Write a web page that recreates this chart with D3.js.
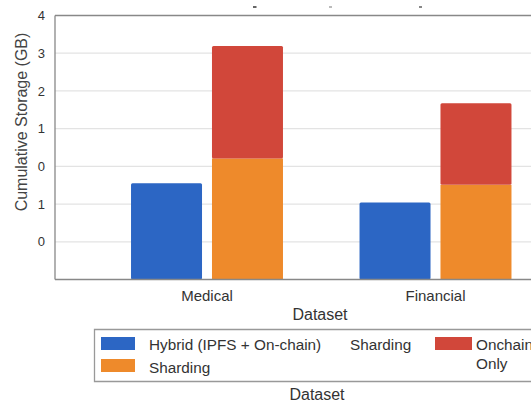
<!DOCTYPE html>
<html>
<head>
<meta charset="utf-8">
<script src="https://cdn.jsdelivr.net/npm/d3@7"></script>
<style>
  html, body { margin: 0; padding: 0; background: #fff; }
  svg { display: block; font-family: "Liberation Sans", Arial, sans-serif; }
</style>
</head>
<body>
<svg id="chart" width="531" height="403"></svg>
<script>
// Datasets along the x axis
const categories = ["Medical", "Financial"];
// Storage per approach (in axis units)
const hybridValues = [2.55, 2.04];
const shardingValues = [3.21, 2.51];
const onchainValues = [2.98, 2.16];
// Y tick labels, bottom to top, for ticks 1..7
const tickValues = [1, 2, 3, 4, 5, 6, 7];
const tickLabels = ["0", "1", "0", "1", "2", "3", "4"];
// Legend entries
const seriesNames = ["Hybrid (IPFS + On-chain)", "Sharding", "Onchain Only"];
const colors = { hybrid: "#2c66c4", sharding: "#ee8a2b", onchain: "#d1473a" };

const svg = d3.select("#chart");
const plot = { left: 55, right: 560, top: 15.5, bottom: 279.5 };

const y = d3.scaleLinear().domain([0, 7]).range([plot.bottom, plot.top]);
const x = d3.scaleBand().domain(categories)
  .range([92.75, 549.75]).paddingInner(0.335).paddingOuter(0.1675);
const xs = d3.scaleBand().domain(["hybrid", "stack"])
  .range([0, x.bandwidth()]).paddingInner(0.123);

// Gridlines
svg.append("g")
  .selectAll("line").data(tickValues.slice(0, 6)).join("line")
  .attr("x1", plot.left).attr("x2", 531)
  .attr("y1", d => y(d)).attr("y2", d => y(d))
  .attr("stroke", "#e3e3e3").attr("stroke-width", 1.2);

// Y axis labels
const yAxis = d3.axisLeft(y).tickValues(tickValues).tickSize(0).tickPadding(10)
  .tickFormat((d, i) => tickLabels[i]);
svg.append("g").attr("transform", `translate(${plot.left},0)`).call(yAxis)
  .call(g => g.select(".domain").remove())
  .call(g => g.selectAll("text").attr("font-size", 13).attr("fill", "#333")
    .attr("font-family", "Liberation Sans, Arial, sans-serif"));

// Bars
const groups = svg.append("g").selectAll("g").data(categories).join("g")
  .attr("transform", d => `translate(${x(d)},0)`);

groups.append("rect")
  .attr("x", xs("hybrid")).attr("width", xs.bandwidth())
  .attr("y", (d, i) => y(hybridValues[i]))
  .attr("height", (d, i) => y(0) - y(hybridValues[i]))
  .attr("rx", 1.5).attr("fill", colors.hybrid);

groups.append("rect")
  .attr("x", xs("stack")).attr("width", xs.bandwidth())
  .attr("y", (d, i) => y(shardingValues[i]))
  .attr("height", (d, i) => y(0) - y(shardingValues[i]))
  .attr("fill", colors.sharding);

groups.append("rect")
  .attr("x", xs("stack")).attr("width", xs.bandwidth())
  .attr("y", (d, i) => y(shardingValues[i] + onchainValues[i]))
  .attr("height", (d, i) => y(shardingValues[i]) - y(shardingValues[i] + onchainValues[i]))
  .attr("rx", 1.5).attr("fill", colors.onchain);

// Frame: top, left, bottom
const frame = svg.append("g").attr("stroke", "#888").attr("stroke-width", 1.3);
frame.append("line").attr("x1", plot.left).attr("x2", 531).attr("y1", plot.top).attr("y2", plot.top);
frame.append("line").attr("x1", plot.left).attr("x2", plot.left).attr("y1", plot.top).attr("y2", plot.bottom);
frame.append("line").attr("x1", plot.left).attr("x2", 531).attr("y1", plot.bottom).attr("y2", plot.bottom);

// Small marks above the frame
svg.append("g").selectAll("rect").data([[253, 2.5, "#666"], [329, 2, "#bbb"], [419, 2, "#888"]]).join("rect")
  .attr("x", d => d[0]).attr("y", 6).attr("width", d => d[1] + 1).attr("height", 2)
  .attr("fill", d => d[2]);

// X category labels
const xAxis = d3.axisBottom(x).tickSize(0).tickPadding(11);
svg.append("g").attr("transform", `translate(0,${plot.bottom})`).call(xAxis)
  .call(g => g.select(".domain").remove())
  .call(g => g.selectAll("text").attr("font-size", 15).attr("fill", "#333")
    .attr("font-family", "Liberation Sans, Arial, sans-serif"));

// Axis titles
svg.append("text").attr("x", 320).attr("y", 320).attr("text-anchor", "middle")
  .attr("font-size", 16).attr("fill", "#333").text("Dataset");
svg.append("text").attr("transform", "translate(26.5,122) rotate(-90)")
  .attr("text-anchor", "middle").attr("font-size", 16).attr("fill", "#444")
  .text("Cumulative Storage (GB)");

// Legend box
const legend = svg.append("g");
legend.append("path")
  .attr("d", "M531,329.5 H94.5 V381.5 H531")
  .attr("fill", "none").attr("stroke", "#999").attr("stroke-width", 1.3);

legend.append("rect").attr("x", 101).attr("y", 337).attr("width", 34).attr("height", 13).attr("fill", colors.hybrid);
legend.append("text").attr("x", 149).attr("y", 350).attr("font-size", 15.3).attr("fill", "#333").text(seriesNames[0]);
legend.append("text").attr("x", 350).attr("y", 350).attr("font-size", 15.3).attr("fill", "#333").text(seriesNames[1]);
legend.append("rect").attr("x", 101).attr("y", 359).attr("width", 34).attr("height", 13).attr("fill", colors.sharding);
legend.append("text").attr("x", 149).attr("y", 373).attr("font-size", 15.3).attr("fill", "#333").text(seriesNames[1]);
legend.append("rect").attr("x", 435).attr("y", 337).attr("width", 37).attr("height", 13).attr("fill", colors.onchain);
const onchainText = legend.append("text").attr("font-size", 15.3).attr("fill", "#333");
seriesNames[2].split(" ").forEach((w, i) => {
  onchainText.append("tspan").attr("x", 476).attr("y", 350 + i * 19).text(w);
});

svg.append("text").attr("x", 317).attr("y", 400).attr("text-anchor", "middle")
  .attr("font-size", 16).attr("fill", "#333").text("Dataset");
</script>
</body>
</html>
